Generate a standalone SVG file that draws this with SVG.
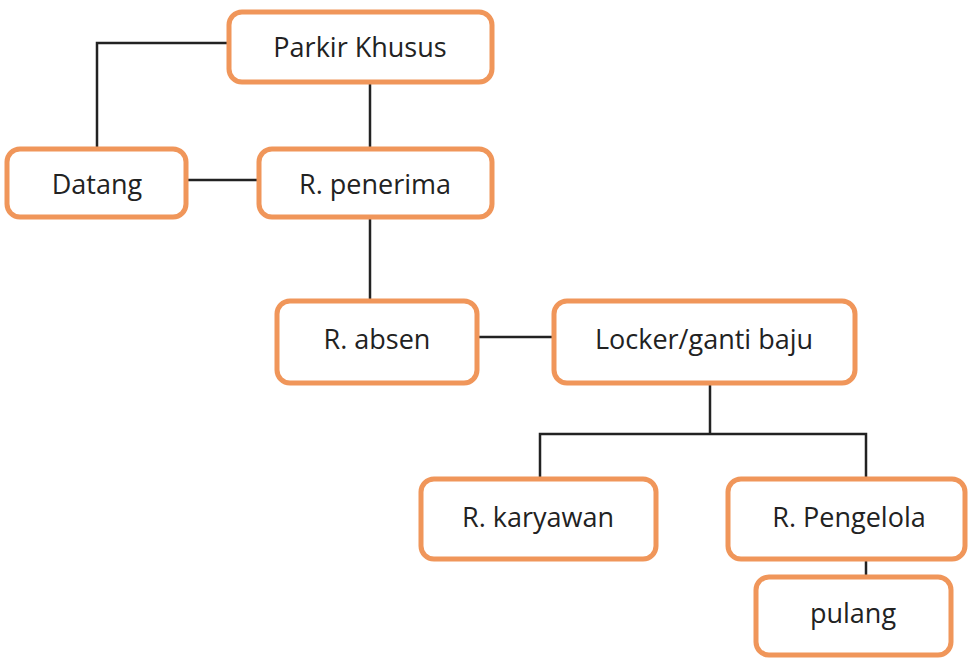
<svg xmlns="http://www.w3.org/2000/svg" width="970" height="660" viewBox="0 0 970 660">
  <style>
    .box { fill: #ffffff; stroke: #f0965a; stroke-width: 5; }
    .label { font-family: "Open Sans", "Liberation Sans", sans-serif; font-size: 27px; fill: #222222; text-anchor: middle; dominant-baseline: central; }
    .link { fill: none; stroke: #222222; stroke-width: 2.5; }
  </style>
  <rect width="970" height="660" fill="#ffffff"/>

  <g id="connectors">
    <polyline class="link" points="228,43 97,43 97,148"/>
    <line class="link" x1="370" y1="83" x2="370" y2="148"/>
    <line class="link" x1="187" y1="180" x2="258" y2="180"/>
    <line class="link" x1="370" y1="218" x2="370" y2="300"/>
    <line class="link" x1="478" y1="337" x2="553" y2="337"/>
    <line class="link" x1="710" y1="384" x2="710" y2="434"/>
    <polyline class="link" points="540,478 540,434 866,434 866,478"/>
    <line class="link" x1="866" y1="560" x2="866" y2="576"/>
  </g>

  <g id="parkir-khusus">
    <rect class="box" x="229" y="12" width="263" height="70" rx="13"/>
    <text class="label" x="360" y="46">Parkir Khusus</text>
  </g>
  <g id="datang">
    <rect class="box" x="7" y="149" width="179" height="68" rx="13"/>
    <text class="label" x="97" y="183">Datang</text>
  </g>
  <g id="r-penerima">
    <rect class="box" x="259" y="149" width="233" height="68" rx="13"/>
    <text class="label" x="375" y="183">R. penerima</text>
  </g>
  <g id="r-absen">
    <rect class="box" x="277" y="301" width="200" height="82" rx="13"/>
    <text class="label" x="377" y="338">R. absen</text>
  </g>
  <g id="locker">
    <rect class="box" x="554" y="301" width="301" height="82" rx="13"/>
    <text class="label" x="704" y="338">Locker/ganti baju</text>
  </g>
  <g id="r-karyawan">
    <rect class="box" x="421" y="479" width="235" height="80" rx="13"/>
    <text class="label" x="538" y="516">R. karyawan</text>
  </g>
  <g id="r-pengelola">
    <rect class="box" x="728" y="479" width="237" height="80" rx="13"/>
    <text class="label" x="849" y="516">R. Pengelola</text>
  </g>
  <g id="pulang">
    <rect class="box" x="756" y="577" width="195" height="78" rx="13"/>
    <text class="label" x="853" y="612">pulang</text>
  </g>
</svg>
